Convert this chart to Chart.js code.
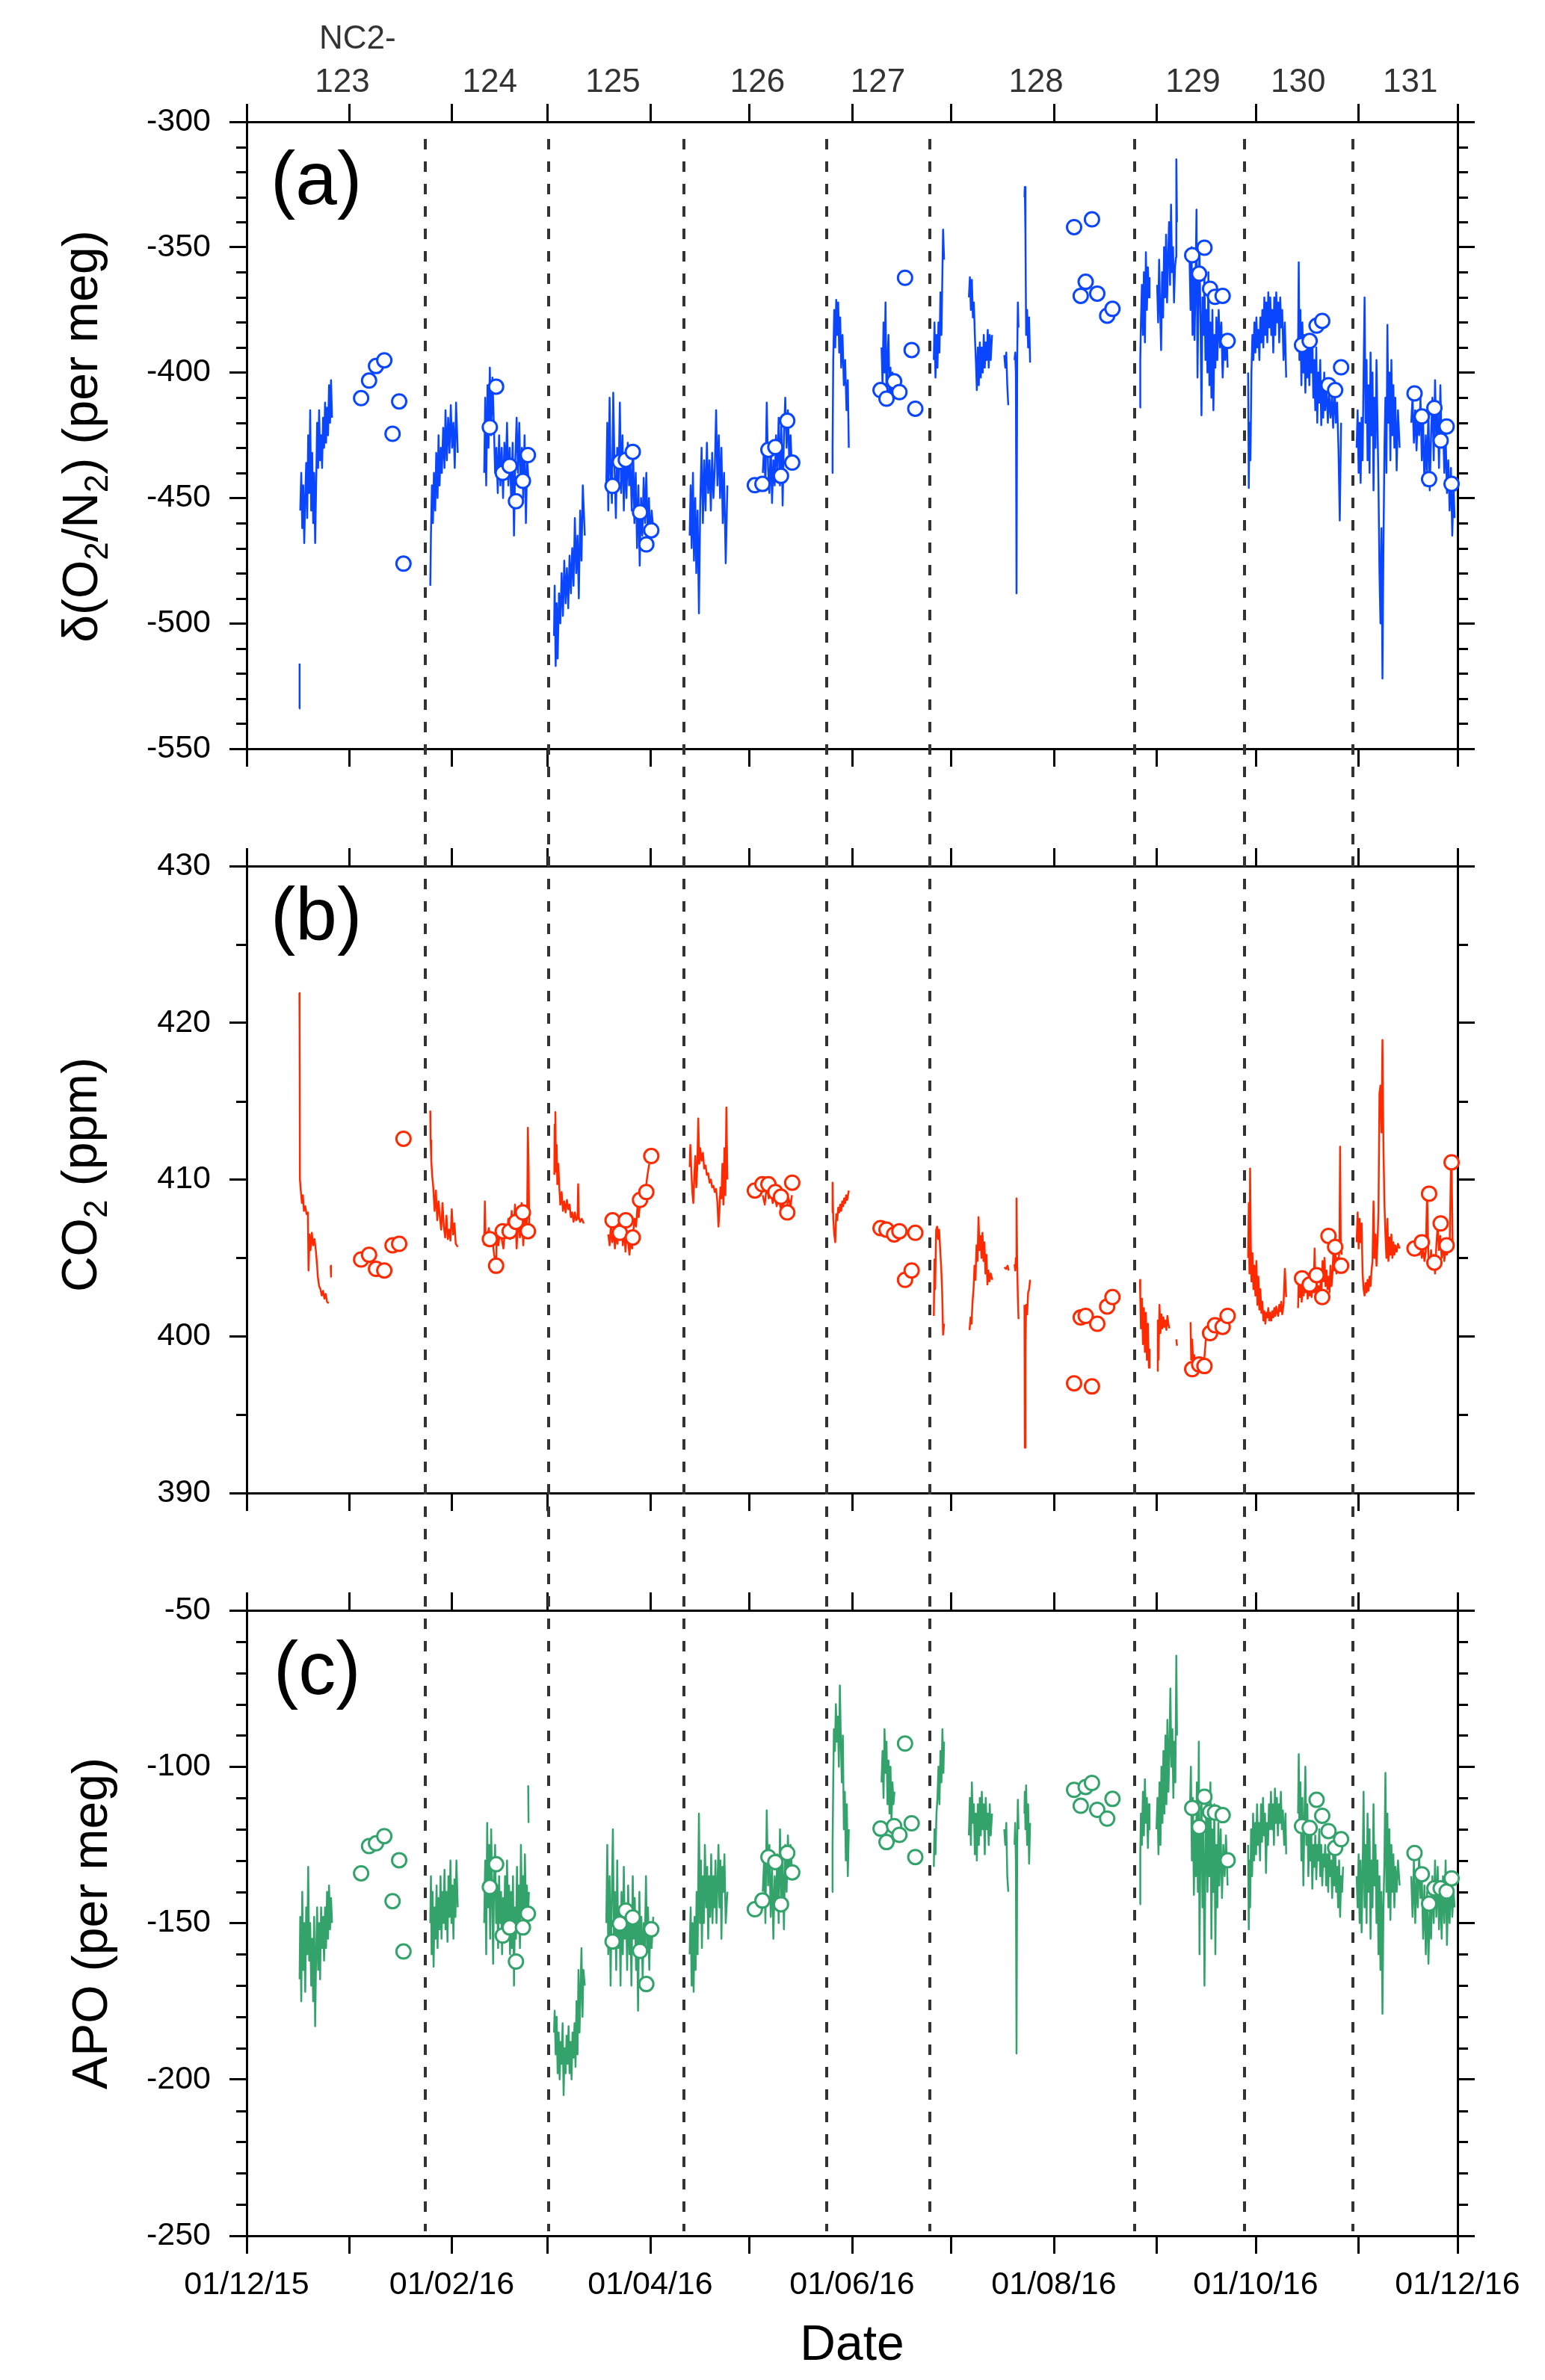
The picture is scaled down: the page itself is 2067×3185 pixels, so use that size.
<!DOCTYPE html>
<html><head><meta charset="utf-8">
<script src="https://cdn.jsdelivr.net/npm/chart.js@4.4.1/dist/chart.umd.min.js"></script>
<style>
html,body{margin:0;padding:0;background:#fff;}
#wrap{position:relative;width:2067px;height:3185px;background:#fff;overflow:hidden;}
canvas{position:absolute;left:0;}
</style></head><body>
<div id="wrap">
<canvas id="ca" width="2067" height="1080" style="top:0px;width:2067px;height:1080px"></canvas>
<canvas id="cb" width="2067" height="996" style="top:1080px;width:2067px;height:996px"></canvas>
<canvas id="cc" width="2067" height="1109" style="top:2076px;width:2067px;height:1109px"></canvas>
</div>
<script>
// ---------- DATA (x = days since 01/12/2015) ----------
const monthTicks = [0,31,62,91,122,152,183,213,244,275,305,336,366];
const labelDays  = [0,62,122,183,244,305,366];
const labelTexts = ['01/12/15','01/02/16','01/04/16','01/06/16','01/08/16','01/10/16','01/12/16'];
const tankDays   = [28.9,73.5,110.7,154.4,190.8,238.6,286.0,317.8,351.7];
const tankLabels = ['123','124','125','126','127','128','129','130','131'];
const tankPrefix = 'NC2-';
const changeDays = [54.0,91.2,132.1,175.3,206.4,268.5,301.5,334.4];

const flaskDays = [34.6,37.0,39.1,41.6,44.1,46.1,47.4, 73.5,75.4,77.4,79.5,81.4,83.5,85.0,
  110.6,112.8,114.6,116.7,118.9,120.8,122.3, 153.6,155.9,157.7,159.8,161.5,163.4,164.9,
  191.6,193.4,195.7,197.3,199.0,201.0,202.1, 250.1,252.1,253.6,255.5,257.1,260.1,261.7,
  285.8,287.9,289.5,291.2,292.7,295.0,296.5, 319.0,321.3,323.4,325.1,327.0,329.0,330.8,
  353.0,355.2,357.4,359.0,360.9,362.7,364.2];
const o2Flask = [-410.2,-403.2,-397.4,-395.1,-424.4,-411.5,-476.2, -421.8,-405.6,-440.0,-437.2,-451.3,-443.2,-432.9,
  -445.2,-435.6,-434.8,-431.6,-455.7,-468.5,-462.9, -444.9,-444.4,-430.8,-429.7,-441.2,-419.2,-435.9,
  -407.0,-410.4,-403.5,-407.8,-362.2,-391.0,-414.4, -342.0,-369.4,-363.8,-338.9,-368.5,-377.3,-374.6,
  -353.2,-360.6,-350.2,-366.6,-369.8,-369.4,-387.4, -389.0,-387.4,-381.3,-379.4,-405.0,-407.0,-397.9,
  -408.3,-417.5,-442.5,-414.1,-427.1,-421.5,-444.4];
const co2Flask = [404.9,405.2,404.3,404.2,405.8,405.9,412.6, 406.2,404.5,406.7,406.7,407.3,407.9,406.7,
  407.4,406.6,407.4,406.3,408.7,409.2,411.5, 409.3,409.7,409.7,409.2,408.9,407.9,409.8,
  406.9,406.8,406.5,406.7,403.6,404.2,406.6, 397.0,401.2,401.3,396.8,400.8,401.9,402.5,
  397.9,398.2,398.1,400.2,400.7,400.6,401.3, 403.7,403.3,403.9,402.5,406.4,405.7,404.5,
  405.6,406.0,409.1,404.7,407.2,405.8,411.1];
const apoFlask = [-134.1,-125.4,-124.5,-122.2,-143.0,-129.9,-159.1, -138.5,-131.2,-154.0,-151.4,-162.3,-151.4,-147.0,
  -155.9,-150.2,-146.0,-148.2,-158.9,-169.5,-152.0, -145.6,-142.8,-128.9,-130.5,-144.0,-127.6,-133.8,
  -119.8,-124.1,-119.0,-121.8,-92.6,-118.1,-128.9, -107.4,-112.5,-106.5,-105.2,-113.8,-116.6,-110.3,
  -113.2,-119.3,-109.6,-114.5,-114.7,-115.5,-129.9, -119.0,-119.6,-110.6,-115.7,-120.6,-126.0,-123.2,
  -127.6,-134.4,-143.8,-138.9,-138.9,-139.9,-135.7];

// continuous records: [day, value], null = data gap
const o2Line = [
[15.9,-534],[16.0,-516],null,
[16.2,-455],[16.5,-440],[16.8,-462],[17.1,-445],[17.4,-468],[17.7,-450],[18.0,-436],[18.3,-458],[18.6,-425],[18.9,-448],[19.2,-415],[19.5,-455],[19.8,-432],[20.1,-460],[20.4,-440],[20.7,-468],[21.0,-445],[21.3,-420],[21.6,-438],[21.9,-415],[22.2,-435],[22.5,-425],[22.8,-438],[23.1,-418],[23.4,-430],[23.7,-412],[24.0,-428],[24.3,-414],[24.6,-425],[24.9,-405],[25.2,-420],[25.5,-403],[25.8,-418],null,
[55.5,-485],[55.7,-465],[56.0,-445],[56.3,-460],[56.6,-440],[57.0,-455],[57.3,-432],[57.7,-450],[58.0,-425],[58.3,-445],[58.7,-430],[59.0,-440],[59.4,-422],[59.8,-438],[60.1,-415],[60.5,-435],[60.9,-418],[61.3,-432],[61.7,-413],[62.1,-430],[62.5,-420],[62.9,-438],[63.3,-412],[63.8,-432],null,
[71.8,-440],[72.1,-410],[72.4,-445],[72.8,-405],[73.1,-430],[73.5,-398],[73.9,-425],[74.3,-402],[74.7,-420],[75.1,-440],[75.5,-430],[75.9,-448],[76.3,-425],[76.7,-445],[77.1,-430],[77.5,-450],[77.9,-428],[78.3,-440],[78.7,-420],[79.1,-445],[79.5,-430],[80.0,-452],[80.4,-428],[80.8,-465],[81.2,-435],[81.6,-418],[82.0,-440],[82.4,-420],[82.8,-445],[83.2,-430],[83.6,-450],[84.0,-425],[84.4,-460],[84.8,-435],[85.3,-445],null,
[92.9,-505],[93.1,-485],[93.4,-517],[93.7,-492],[94.0,-514],[94.4,-488],[94.8,-500],[95.2,-480],[95.6,-497],[96.0,-475],[96.4,-492],[96.8,-478],[97.2,-494],[97.6,-473],[98.0,-488],[98.4,-470],[98.8,-485],[99.2,-458],[99.6,-480],[100.0,-465],[100.4,-490],[100.8,-455],[101.2,-475],[101.6,-445],[102.2,-465],null,
[108.7,-445],[109.0,-420],[109.3,-455],[109.7,-410],[110.0,-440],[110.4,-452],[110.8,-408],[111.2,-438],[111.6,-458],[112.0,-430],[112.4,-445],[112.8,-412],[113.2,-448],[113.6,-425],[114.0,-455],[114.4,-432],[114.8,-450],[115.2,-428],[115.6,-445],[116.0,-436],[116.4,-455],[116.8,-430],[117.2,-460],[117.6,-440],[118.0,-470],[118.4,-445],[118.8,-477],[119.2,-450],[119.6,-465],[120.0,-442],[120.4,-460],[120.8,-440],[121.2,-465],[121.6,-450],[122.0,-468],[122.4,-455],[122.9,-462],null,
[133.9,-465],[134.2,-445],[134.5,-470],[134.9,-440],[135.2,-475],[135.6,-450],[135.9,-480],[136.3,-455],[136.7,-496],[137.1,-452],[137.5,-430],[137.9,-460],[138.3,-435],[138.7,-455],[139.1,-428],[139.5,-448],[139.9,-435],[140.3,-455],[140.7,-432],[141.1,-450],[141.5,-438],[141.9,-415],[142.3,-445],[142.7,-425],[143.1,-450],[143.5,-430],[143.9,-460],[144.3,-440],[144.8,-476],[145.3,-445],null,
[156.0,-440],[156.4,-430],[156.8,-445],[157.2,-412],[157.6,-438],[158.0,-448],[158.4,-428],[158.8,-452],[159.2,-435],[159.6,-445],[160.0,-425],[160.4,-440],[160.8,-418],[161.2,-445],[161.6,-420],[162.0,-453],[162.4,-425],[162.8,-410],[163.2,-430],[163.6,-415],[164.0,-435],[164.4,-425],[164.8,-438],null,
[176.9,-440],[177.1,-430],[177.3,-395],[177.6,-375],[177.9,-390],[178.2,-371],[178.5,-385],[178.8,-372],[179.1,-392],[179.4,-378],[179.7,-398],[180.1,-385],[180.5,-405],[180.9,-395],[181.3,-415],[181.7,-403],[182.0,-430],null,
[191.9,-390],[192.2,-405],[192.5,-380],[192.8,-400],[193.1,-372],[193.4,-410],[193.7,-395],[194.0,-385],[194.3,-408],[194.6,-398],[194.9,-412],[195.2,-400],[195.5,-405],[195.8,-410],null,
[207.7,-395],[207.9,-380],[208.2,-402],[208.5,-385],[208.8,-398],[209.1,-380],[209.4,-392],[209.7,-368],[210.0,-385],[210.3,-360],[210.5,-343],[210.8,-355],null,
[218.3,-370],[218.6,-362],[218.9,-375],[219.2,-363],[219.5,-378],[219.8,-372],[220.1,-385],[220.4,-395],[220.7,-407],[221.0,-390],[221.3,-405],[221.6,-388],[221.9,-402],[222.2,-390],[222.5,-400],[222.8,-385],[223.1,-398],[223.4,-388],[223.7,-395],[224.0,-383],[224.3,-398],[224.6,-385],[224.9,-395],[225.3,-385],null,
[229.0,-393],[229.3,-398],[229.6,-392],[229.9,-405],[230.2,-413],null,
[232.1,-395],[232.3,-392],[232.5,-400],[232.7,-488],[232.9,-395],[233.1,-372],[233.3,-382],null,
[235.1,-330],[235.2,-326],[235.4,-345],[235.6,-385],[235.9,-375],[236.2,-390],[236.5,-378],[236.8,-396],null,
[270.0,-414],[270.1,-395],[270.3,-380],[270.6,-365],[270.9,-385],[271.2,-360],[271.5,-388],[271.8,-352],[272.1,-375],[272.4,-358],[272.7,-370],[272.9,-362],null,
[275.2,-365],[275.5,-380],[275.8,-355],[276.1,-375],[276.4,-391],[276.7,-360],[277.0,-378],[277.3,-350],[277.6,-370],[277.9,-345],[278.2,-372],[278.5,-355],[278.8,-340],[279.1,-365],[279.4,-333],[279.7,-360],[280.0,-350],[280.3,-372],[280.6,-358],[280.9,-354],[281.0,-315],[281.2,-340],null,
[285.0,-355],[285.3,-375],[285.6,-350],[285.9,-385],[286.2,-360],[286.5,-387],[286.8,-365],[287.1,-335],[287.4,-402],[287.7,-370],[288.0,-352],[288.3,-378],[288.6,-417],[288.9,-370],[289.2,-385],[289.5,-362],[289.8,-395],[290.1,-375],[290.4,-400],[290.7,-360],[291.0,-405],[291.3,-380],[291.6,-410],[291.9,-375],[292.2,-415],[292.5,-385],[292.8,-398],[293.1,-378],[293.4,-395],[293.8,-375],[294.2,-390],[294.6,-380],[295.0,-402],[295.4,-388],[295.8,-395],[296.2,-385],[296.5,-398],null,
[302.7,-400],[302.9,-446],[303.1,-420],[303.4,-435],[303.7,-400],[304.0,-385],[304.3,-395],[304.6,-380],[304.9,-392],[305.2,-378],[305.5,-390],[305.8,-383],[306.1,-395],[306.4,-378],[306.7,-388],[307.0,-375],[307.3,-390],[307.6,-370],[307.9,-385],[308.2,-372],[308.5,-388],[308.8,-368],[309.1,-382],[309.4,-370],[309.7,-385],[310.0,-375],[310.3,-392],[310.6,-370],[310.9,-385],[311.2,-368],[311.5,-380],[311.8,-372],[312.1,-388],[312.4,-370],[312.7,-382],[313.0,-375],[313.4,-395],[313.8,-380],[314.2,-402],null,
[317.8,-390],[318.0,-356],[318.2,-395],[318.5,-375],[318.8,-405],[319.1,-380],[319.4,-400],[319.7,-385],[320.0,-408],[320.3,-390],[320.6,-402],[320.9,-388],[321.2,-405],[321.5,-390],[321.8,-400],[322.1,-385],[322.4,-410],[322.7,-395],[323.0,-415],[323.3,-390],[323.6,-420],[323.9,-400],[324.2,-412],[324.5,-395],[324.8,-421],[325.1,-405],[325.4,-418],[325.7,-400],[326.0,-415],[326.4,-405],[326.8,-420],[327.2,-408],[327.6,-418],[328.0,-410],[328.4,-422],[328.8,-405],[329.2,-420],[329.6,-412],[330.0,-430],[330.4,-459],[330.8,-420],null,
[335.5,-430],[335.8,-415],[336.1,-440],[336.4,-420],[336.7,-444],[337.0,-418],[337.3,-435],[337.6,-400],[337.9,-370],[338.2,-420],[338.5,-395],[338.8,-435],[339.1,-405],[339.4,-440],[339.7,-392],[340.0,-425],[340.3,-400],[340.6,-447],[340.9,-410],[341.2,-430],[341.5,-395],[341.8,-420],[342.1,-445],[342.4,-480],[342.7,-500],[343.0,-462],[343.3,-522],[343.6,-470],[343.9,-430],[344.2,-410],[344.5,-440],[344.8,-381],[345.1,-420],[345.4,-400],[345.7,-435],[346.0,-395],[346.3,-425],[346.6,-405],[346.9,-430],[347.2,-410],[347.6,-439],[348.0,-415],[348.5,-430],null,
[352.0,-420],[352.4,-410],[352.8,-428],[353.2,-415],[353.6,-431],[354.0,-418],[354.4,-425],[354.8,-410],[355.2,-435],[355.6,-420],[356.0,-445],[356.4,-425],[356.8,-440],[357.2,-415],[357.6,-447],[358.0,-425],[358.4,-410],[358.8,-435],[359.2,-403],[359.6,-428],[360.0,-415],[360.4,-438],[360.8,-405],[361.2,-430],[361.6,-420],[362.0,-440],[362.4,-425],[362.8,-448],[363.2,-435],[363.6,-455],[364.0,-438],[364.4,-465],[364.8,-445],[365.1,-458]
];

const co2Line = [
[15.95,421.9],[16.0,419.5],[16.1,410.0],[16.4,409.2],[16.7,408.5],[17.0,409.0],[17.3,408.0],[17.7,408.3],[18.1,407.8],[18.5,407.9],[18.7,404.2],[19.0,406.5],[19.3,405.5],[19.7,406.6],[20.1,405.8],[20.5,406.2],[20.9,405.5],[21.3,404.5],[21.5,403.8],[21.9,403.2],[22.3,403.0],[22.7,402.6],[23.1,402.9],[23.5,402.4],[23.9,402.7],[24.3,402.2],[24.8,402.1],null,
[25.4,404.5],[25.5,403.8],null,
[55.5,414.4],[55.6,412.5],[55.8,411.2],[56.1,410.2],[56.4,409.5],[56.8,408.0],[57.2,409.3],[57.6,407.4],[58.0,408.6],[58.4,407.6],[58.8,406.8],[59.2,408.5],[59.6,407.0],[60.0,406.3],[60.4,407.7],[60.8,406.2],[61.2,406.8],[61.6,406.1],[62.0,408.1],[62.4,406.5],[62.8,407.2],[63.2,405.9],[63.8,405.7],null,
[71.8,405.8],[72.0,408.6],[72.2,406.5],[72.7,406.2],[73.2,406.9],[73.7,405.9],[74.2,406.3],[74.8,405.2],[75.4,404.5],[75.6,406.4],[76.1,405.8],[76.6,406.8],[77.1,406.2],[77.6,405.6],[78.1,406.8],[78.6,406.3],[79.1,407.5],[79.6,406.2],[80.1,408.0],[80.6,406.5],[81.1,408.4],[81.6,405.6],[82.1,407.5],[82.6,406.3],[83.1,408.5],[83.6,405.8],[84.1,407.6],[84.6,406.5],[84.8,408.2],[85.0,413.3],[85.2,411.0],[85.4,407.2],[85.7,406.5],null,
[93.0,410.3],[93.1,413.5],[93.3,414.3],[93.5,410.5],[93.7,412.2],[93.9,409.7],[94.2,411.0],[94.5,409.5],[94.8,408.4],[95.2,409.2],[95.6,408.0],[96.0,408.6],[96.4,407.9],[96.8,408.7],[97.2,408.1],[97.6,408.4],[98.0,407.6],[98.4,407.9],[98.8,407.3],[99.2,407.9],[99.6,407.4],[100.0,407.5],[100.2,409.7],[100.4,407.6],[100.8,407.3],[101.3,407.5],[101.9,407.2],null,
[109.3,406.5],[109.7,405.8],[110.1,407.1],[110.5,406.0],[110.9,406.8],[111.3,405.6],[111.7,406.5],[112.1,405.9],[112.5,407.0],[112.9,406.2],[113.3,407.4],[113.7,405.8],[114.1,406.8],[114.5,405.4],[114.9,406.6],[115.3,406.0],[115.7,405.2],[116.1,406.2],[116.5,405.6],[116.9,406.8],[117.3,407.5],[117.7,407.0],[118.1,408.2],[118.5,407.6],[118.9,408.5],[119.3,408.9],[119.7,408.4],[120.1,409.4],[120.5,409.0],[120.9,409.9],[121.3,410.5],[121.7,411.0],null,
[133.9,410.8],[134.1,412.2],[134.4,410.6],[134.7,409.2],[135.0,408.5],[135.3,410.2],[135.6,411.5],[135.9,409.5],[136.2,410.8],[136.5,413.9],[136.8,411.0],[137.1,412.0],[137.5,411.2],[137.9,411.7],[138.3,410.7],[138.7,410.9],[139.1,410.3],[139.5,410.4],[139.9,409.8],[140.3,410.0],[140.7,409.5],[141.1,409.6],[141.5,409.2],[141.9,409.4],[142.3,408.5],[142.6,407.0],[142.9,408.0],[143.2,409.5],[143.5,408.8],[143.8,411.0],[144.1,408.4],[144.4,412.0],[144.7,409.0],[145.0,414.6],[145.3,410.0],null,
[156.0,409.0],[156.6,408.4],[157.2,409.6],[157.8,408.8],[158.4,409.3],[159.0,408.5],[159.6,409.0],[160.2,408.3],[160.8,408.9],[161.4,408.2],[162.0,408.6],[162.6,407.6],[163.2,408.2],[163.8,408.8],[164.4,408.3],[164.8,409.0],null,
[176.9,407.9],[177.1,409.8],[177.3,407.5],[177.6,406.5],[177.9,406.0],[178.2,407.8],[178.5,407.4],[178.8,408.2],[179.1,407.9],[179.4,408.4],[179.7,408.0],[180.0,408.6],[180.3,408.3],[180.6,408.8],[180.9,408.5],[181.2,409.0],[181.5,408.7],[182.0,409.3],null,
[191.9,407.0],[192.4,406.5],[192.9,407.2],[193.4,406.6],[193.9,407.0],[194.4,406.4],[194.9,406.8],[195.4,406.2],[195.8,406.6],null,
[207.7,401.3],[207.9,404.9],[208.1,403.0],[208.4,406.8],[208.7,407.0],[209.0,406.2],[209.3,406.8],[209.6,405.6],[209.9,404.5],[210.2,403.0],[210.5,400.1],[210.8,400.8],null,
[218.5,400.4],[218.8,401.2],[219.1,400.8],[219.4,402.2],[219.7,403.0],[220.0,404.5],[220.3,403.6],[220.6,405.8],[220.9,404.8],[221.2,407.6],[221.5,405.5],[221.8,406.4],[222.1,405.0],[222.4,406.6],[222.7,404.8],[223.0,406.0],[223.3,404.0],[223.6,405.2],[223.9,403.3],[224.2,404.2],[224.5,403.5],[224.9,404.0],[225.4,403.6],null,
[229.0,404.4],[229.5,404.3],[230.0,404.5],[230.3,404.2],null,
[232.1,404.6],[232.3,404.2],[232.5,405.0],[232.7,408.8],[232.9,404.5],[233.1,402.5],[233.3,401.1],null,
[235.1,402.0],[235.2,392.9],[235.4,399.0],[235.6,402.0],[235.9,401.4],[236.2,402.8],[236.5,403.0],[236.8,403.6],null,
[270.0,403.6],[270.1,402.6],[270.3,400.5],[270.6,402.4],[270.9,399.5],[271.2,401.8],[271.5,399.0],[271.8,401.5],[272.1,398.5],[272.4,400.8],[272.7,398.0],[272.9,399.2],null,
[275.2,397.8],[275.4,401.0],[275.6,398.5],[275.9,402.0],[276.2,400.2],[276.5,401.4],[276.8,400.5],[277.1,401.2],[277.4,400.6],[277.7,401.0],[278.0,400.4],[278.3,401.3],[278.6,400.8],[278.9,400.5],null,
[281.0,399.8],[281.2,399.4],null,
[285.3,400.9],[285.5,398.5],[285.8,399.8],[286.1,398.2],[286.4,398.8],[286.7,397.9],[287.0,398.3],[287.4,398.0],[287.8,398.4],[288.2,398.0],[288.6,398.5],[289.0,398.1],[289.4,398.4],[289.8,399.5],[290.1,400.3],[290.4,399.8],[290.8,400.2],[291.2,400.5],[291.6,400.1],[292.0,400.6],[292.4,400.2],[292.8,400.8],[293.2,400.5],[293.6,401.0],[294.0,400.6],[294.4,401.2],[294.8,400.8],[295.2,401.3],[295.6,401.0],[296.0,401.5],[296.5,401.2],null,
[302.7,405.0],[302.9,408.5],[303.1,404.0],[303.3,410.7],[303.5,406.0],[303.7,403.5],[304.0,405.3],[304.3,403.0],[304.6,404.5],[304.9,402.6],[305.2,404.8],[305.5,402.0],[305.8,403.8],[306.1,401.7],[306.4,403.0],[306.7,401.5],[307.0,402.2],[307.3,401.0],[307.6,401.6],[307.9,400.8],[308.2,401.5],[308.5,401.2],[308.8,401.8],[309.1,401.0],[309.4,401.5],[309.7,401.0],[310.0,401.6],[310.3,401.2],[310.6,401.8],[310.9,401.3],[311.2,401.9],[311.5,401.5],[311.8,401.3],[312.1,402.0],[312.4,401.6],[312.7,402.2],[313.0,401.4],[313.4,402.0],[313.8,404.3],[314.2,402.5],null,
[317.8,401.8],[318.0,404.0],[318.3,402.5],[318.6,403.5],[318.9,402.2],[319.2,403.8],[319.5,402.6],[319.8,403.3],[320.1,402.8],[320.4,403.6],[320.7,402.4],[321.0,403.0],[321.3,402.6],[321.6,403.4],[321.9,402.5],[322.2,403.5],[322.5,402.8],[322.8,405.6],[323.1,402.6],[323.4,403.6],[323.7,402.4],[324.0,403.2],[324.3,402.2],[324.6,403.4],[324.9,403.0],[325.2,404.8],[325.5,403.5],[325.8,405.0],[326.1,403.2],[326.4,404.2],[326.7,403.0],[327.0,403.8],[327.3,402.8],[327.6,404.5],[327.9,403.2],[328.2,404.0],[328.5,405.5],[328.8,404.2],[329.1,405.2],[329.4,404.0],[329.7,405.0],[330.0,404.3],[330.3,405.8],[330.5,412.1],[330.7,406.0],[331.0,405.2],null,
[335.5,406.0],[335.8,407.9],[336.1,405.6],[336.4,407.5],[336.7,406.0],[337.0,407.2],[337.3,404.0],[337.6,403.0],[337.9,402.6],[338.2,403.4],[338.5,402.8],[338.8,403.6],[339.1,402.9],[339.4,403.8],[339.7,403.2],[340.0,404.2],[340.3,404.8],[340.6,408.6],[340.9,405.0],[341.2,406.5],[341.5,404.5],[341.8,406.0],[342.1,408.0],[342.4,415.5],[342.7,416.0],[343.0,413.0],[343.3,418.9],[343.6,412.0],[343.9,408.5],[344.2,406.5],[344.5,405.0],[344.8,407.5],[345.1,404.8],[345.4,406.3],[345.7,405.2],[346.0,406.5],[346.3,405.0],[346.6,406.0],[346.9,405.2],[347.2,405.8],[347.6,405.4],[348.0,405.9],[348.5,405.6],null,
[352.0,405.6],[352.4,405.9],[352.8,405.4],[353.2,406.1],[353.6,405.5],[354.0,406.0],[354.4,405.2],[354.8,405.8],[355.2,405.0],[355.6,405.6],[356.0,404.8],[356.4,405.4],[356.8,409.2],[357.2,405.0],[357.6,404.5],[358.0,405.5],[358.4,404.4],[358.8,405.2],[359.2,404.0],[359.6,405.8],[360.0,407.1],[360.4,405.5],[360.8,406.4],[361.2,405.0],[361.6,405.8],[362.0,404.8],[362.4,405.6],[362.8,405.2],[363.2,406.0],[363.6,405.5],[364.0,410.8],[364.2,411.1],[364.5,406.0]
];

const apoLine = [
[16.0,-168],[16.2,-148],[16.5,-175],[16.8,-140],[17.1,-165],[17.4,-150],[17.7,-172],[18.0,-145],[18.3,-160],[18.6,-132],[18.9,-162],[19.2,-150],[19.5,-170],[19.8,-155],[20.1,-175],[20.4,-148],[20.7,-183],[21.0,-160],[21.3,-145],[21.6,-165],[21.9,-150],[22.2,-168],[22.5,-145],[22.8,-158],[23.1,-148],[23.4,-162],[23.7,-145],[24.0,-158],[24.3,-140],[24.6,-155],[24.9,-138],[25.2,-152],[25.5,-142],[25.8,-150],null,
[55.5,-150],[55.7,-135],[55.9,-160],[56.2,-140],[56.5,-164],[56.8,-145],[57.1,-155],[57.4,-138],[57.7,-158],[58.0,-142],[58.3,-152],[58.6,-135],[58.9,-155],[59.2,-140],[59.5,-150],[59.8,-133],[60.1,-152],[60.4,-140],[60.7,-156],[61.0,-135],[61.3,-148],[61.6,-130],[61.9,-150],[62.2,-138],[62.5,-155],[62.8,-136],[63.1,-148],[63.4,-130],[63.8,-145],null,
[71.8,-150],[72.1,-130],[72.4,-160],[72.7,-118],[73.0,-145],[73.3,-125],[73.6,-155],[73.9,-120],[74.2,-140],[74.5,-163],[74.8,-135],[75.1,-125],[75.4,-150],[75.7,-138],[76.0,-158],[76.3,-135],[76.6,-150],[76.9,-140],[77.2,-160],[77.5,-142],[77.8,-152],[78.1,-135],[78.4,-155],[78.7,-130],[79.0,-150],[79.3,-138],[79.6,-160],[79.9,-140],[80.2,-158],[80.5,-135],[80.8,-170],[81.1,-145],[81.4,-155],[81.7,-132],[82.0,-150],[82.3,-138],[82.6,-158],[82.9,-125],[83.2,-148],[83.5,-135],[83.8,-152],[84.1,-128],[84.4,-145],[84.7,-138],[85.0,-150],[85.3,-140],null,
[85.1,-106],[85.2,-118],null,
[92.9,-185],[93.1,-178],[93.4,-192],[93.7,-180],[94.0,-198],[94.3,-185],[94.6,-200],[94.9,-188],[95.2,-195],[95.5,-182],[95.8,-205],[96.1,-190],[96.4,-198],[96.7,-186],[97.0,-195],[97.3,-183],[97.6,-198],[97.9,-188],[98.2,-200],[98.5,-185],[98.8,-193],[99.1,-182],[99.4,-196],[99.7,-175],[100.0,-192],[100.3,-165],[100.6,-185],[100.9,-172],[101.2,-158],[101.5,-180],[101.8,-165],[102.2,-170],null,
[108.7,-150],[109.0,-125],[109.3,-160],[109.7,-135],[110.0,-170],[110.3,-145],[110.7,-120],[111.0,-155],[111.3,-140],[111.7,-165],[112.0,-130],[112.3,-158],[112.7,-145],[113.0,-170],[113.3,-140],[113.7,-160],[114.0,-132],[114.3,-155],[114.7,-145],[115.0,-165],[115.3,-138],[115.7,-160],[116.0,-148],[116.3,-170],[116.7,-135],[117.0,-155],[117.3,-142],[117.7,-165],[118.0,-150],[118.3,-178],[118.7,-140],[119.0,-160],[119.3,-148],[119.7,-168],[120.0,-150],[120.3,-160],[120.7,-135],[121.0,-158],[121.3,-145],[121.7,-165],[122.0,-150],[122.4,-158],[122.9,-148],null,
[133.9,-160],[134.2,-145],[134.5,-170],[134.8,-150],[135.1,-172],[135.4,-148],[135.7,-165],[136.0,-140],[136.3,-160],[136.7,-115],[137.0,-150],[137.3,-130],[137.6,-158],[137.9,-135],[138.2,-150],[138.5,-125],[138.9,-145],[139.2,-132],[139.5,-155],[139.8,-135],[140.1,-148],[140.4,-128],[140.8,-150],[141.1,-135],[141.4,-145],[141.7,-130],[142.0,-150],[142.3,-138],[142.6,-125],[142.9,-145],[143.2,-130],[143.5,-155],[143.8,-132],[144.1,-140],[144.4,-128],[144.8,-150],[145.3,-140],null,
[156.0,-140],[156.4,-130],[156.8,-150],[157.2,-114],[157.6,-138],[158.0,-125],[158.4,-148],[158.8,-132],[159.2,-155],[159.6,-135],[160.0,-145],[160.4,-128],[160.8,-150],[161.2,-120],[161.6,-142],[162.0,-130],[162.4,-152],[162.8,-125],[163.2,-140],[163.6,-122],[164.0,-135],[164.4,-125],[164.8,-133],null,
[176.9,-140],[177.1,-125],[177.3,-105],[177.5,-88],[177.8,-95],[178.1,-80],[178.4,-92],[178.7,-84],[179.0,-100],[179.3,-74],[179.6,-92],[179.9,-105],[180.2,-90],[180.5,-120],[180.8,-108],[181.1,-130],[181.4,-112],[181.7,-135],[182.0,-120],null,
[191.9,-105],[192.2,-95],[192.5,-110],[192.8,-88],[193.1,-102],[193.4,-92],[193.7,-112],[194.0,-98],[194.3,-115],[194.6,-100],[194.9,-118],[195.2,-105],[195.5,-112],[195.8,-108],null,
[207.7,-132],[207.9,-120],[208.2,-128],[208.5,-115],[208.8,-110],[209.1,-100],[209.4,-112],[209.7,-95],[210.0,-105],[210.3,-88],[210.6,-102],[210.8,-92],null,
[218.3,-122],[218.6,-110],[218.9,-125],[219.2,-105],[219.5,-118],[219.8,-112],[220.1,-128],[220.4,-115],[220.7,-130],[221.0,-112],[221.3,-125],[221.6,-110],[221.9,-122],[222.2,-108],[222.5,-120],[222.8,-112],[223.1,-128],[223.4,-110],[223.7,-120],[224.0,-115],[224.3,-125],[224.6,-112],[224.9,-122],[225.3,-115],null,
[229.0,-120],[229.3,-125],[229.6,-118],[229.9,-135],[230.2,-140],null,
[232.1,-125],[232.3,-118],[232.5,-130],[232.7,-191.7],[232.9,-125],[233.1,-110.6],[233.3,-120],null,
[235.1,-115],[235.2,-108],[235.4,-120],[235.6,-106],[235.9,-125],[236.2,-112],[236.5,-131],[236.8,-118],null,
[270.0,-144],[270.1,-128],[270.3,-115],[270.6,-125],[270.9,-108],[271.2,-122],[271.5,-104],[271.8,-118],[272.1,-110],[272.4,-126],[272.7,-112],[272.9,-120],null,
[275.0,-120],[275.3,-110],[275.6,-128],[275.9,-105],[276.2,-125],[276.5,-100],[276.8,-118],[277.1,-95],[277.4,-115],[277.7,-90],[278.0,-112],[278.3,-85],[278.6,-108],[278.9,-95],[279.2,-75],[279.5,-100],[279.8,-88],[280.1,-110],[280.4,-92],[280.7,-105],[281.0,-64.5],[281.2,-90],null,
[285.1,-115],[285.4,-100],[285.7,-130],[286.0,-110],[286.3,-141],[286.6,-120],[286.9,-135],[287.2,-105],[287.5,-140],[287.8,-92],[288.0,-160],[288.3,-125],[288.6,-110],[288.9,-145],[289.2,-118],[289.5,-170],[289.8,-130],[290.1,-110],[290.4,-140],[290.7,-115],[291.0,-135],[291.3,-105],[291.6,-155],[291.9,-120],[292.2,-140],[292.5,-112],[292.8,-160],[293.1,-125],[293.4,-145],[293.7,-118],[294.0,-138],[294.4,-120],[294.8,-142],[295.2,-125],[295.6,-135],[296.0,-122],[296.5,-138],null,
[302.7,-125],[302.9,-152],[303.1,-130],[303.3,-145],[303.6,-120],[303.9,-135],[304.2,-115],[304.5,-130],[304.8,-118],[305.1,-128],[305.4,-112],[305.7,-125],[306.0,-118],[306.3,-130],[306.6,-112],[306.9,-124],[307.2,-110],[307.5,-122],[307.8,-115],[308.1,-134],[308.4,-118],[308.7,-125],[309.0,-112],[309.3,-120],[309.6,-108],[309.9,-120],[310.2,-112],[310.5,-125],[310.8,-107],[311.1,-118],[311.4,-110],[311.7,-122],[312.0,-112],[312.3,-118],[312.6,-108],[312.9,-120],[313.2,-114],[313.6,-125],[314.0,-115],[314.2,-128],null,
[317.8,-115],[318.0,-96],[318.2,-120],[318.5,-105],[318.8,-130],[319.1,-110],[319.4,-138],[319.7,-118],[320.0,-100],[320.3,-125],[320.6,-112],[320.9,-135],[321.2,-120],[321.5,-130],[321.8,-122],[322.1,-139],[322.4,-125],[322.7,-132],[323.0,-122],[323.3,-136],[323.6,-125],[323.9,-130],[324.2,-120],[324.5,-135],[324.8,-125],[325.1,-138],[325.4,-128],[325.7,-132],[326.0,-125],[326.3,-138],[326.6,-128],[326.9,-140],[327.2,-125],[327.5,-135],[327.8,-130],[328.1,-142],[328.4,-128],[328.7,-138],[329.0,-125],[329.3,-140],[329.6,-132],[329.9,-145],[330.2,-130],[330.5,-148],[330.8,-135],[331.1,-140],[331.4,-132],null,
[335.5,-135],[335.8,-145],[336.1,-128],[336.4,-150],[336.7,-130],[337.0,-153],[337.3,-135],[337.6,-108],[337.9,-145],[338.2,-125],[338.5,-150],[338.8,-115],[339.1,-140],[339.4,-120],[339.7,-155],[340.0,-130],[340.3,-145],[340.6,-112],[340.9,-138],[341.2,-125],[341.5,-150],[341.8,-130],[342.1,-160],[342.4,-135],[342.7,-165],[343.0,-140],[343.3,-179],[343.6,-145],[343.9,-130],[344.2,-102],[344.5,-140],[344.8,-115],[345.1,-145],[345.4,-120],[345.7,-149],[346.0,-125],[346.3,-140],[346.6,-128],[346.9,-145],[347.2,-132],[347.6,-140],[348.0,-130],[348.5,-138],null,
[352.0,-135],[352.4,-148],[352.8,-130],[353.2,-150],[353.6,-135],[354.0,-145],[354.4,-128],[354.8,-142],[355.2,-135],[355.6,-155],[356.0,-138],[356.4,-160],[356.8,-140],[357.2,-163],[357.6,-145],[358.0,-155],[358.4,-135],[358.8,-150],[359.2,-130],[359.6,-148],[360.0,-132],[360.4,-152],[360.8,-138],[361.2,-155],[361.6,-135],[362.0,-150],[362.4,-130],[362.8,-157],[363.2,-138],[363.6,-150],[364.0,-135],[364.4,-148],[364.8,-140],[365.1,-145]
];

// ---------- RENDERING ----------
const FONT = "'Liberation Sans', Arial, Helvetica, sans-serif";
const W = 2067;
const DASH_TOP = 186, DASH_BOTTOM = 2986;

function toXY(arr){
  const out = [];
  arr.forEach((p,i)=>{ if(p) out.push({x:p[0],y:p[1]}); else out.push({x:arr[i-1][0]+0.05,y:null}); });
  return out;
}
function flaskXY(vals){ return flaskDays.map((d,i)=>({x:d,y:vals[i]})); }

const panels = [
  {id:'ca', top:0, h:1080, area:[163,1002], min:-550, max:-300, major:50, minor:10, color:'#0a46ff',
   line:o2Line, flask:o2Flask, label:'(a)', labelPos:[362,273],
   title:[['δ(O',0],['2',1],['/N',0],['2',1],[') (per meg)',0]], titleX:130, titleY:584, xLabels:false, tanks:true},
  {id:'cb', top:1080, h:996, area:[1159,1998], min:390, max:430, major:10, minor:5, color:'#ff2a00',
   line:co2Line, flask:co2Flask, label:'(b)', labelPos:[362,1258],
   title:[['CO',0],['2',1],[' (ppm)',0]], titleX:129, titleY:1572, xLabels:false},
  {id:'cc', top:2076, h:1109, area:[2155,2992], min:-250, max:-50, major:50, minor:10, color:'#33a36b',
   line:apoLine, flask:apoFlask, label:'(c)', labelPos:[366,2267],
   title:[['APO (per meg)',0]], titleX:143, titleY:2574, xLabels:true, dateTitle:true}
];

function makePanel(p){
  const T = p.top;
  const topH = p.area[0]-T, botH = T+p.h-p.area[1];
  const gridOpts = (len)=>({drawOnChartArea:false, drawTicks:true, tickLength:len, tickWidth:3, lineWidth:3, color:'#000', tickColor:'#000'});
  const xAxis = (pos, h, show)=>({
    type:'linear', position:pos, min:0, max:366,
    grid:gridOpts(24), border:{display:true,width:3,color:'#000'},
    ticks:{autoSkip:false, maxRotation:0, minRotation:0, padding:16, color:'#000', font:{family:FONT,size:43},
      callback:(v)=>{ if(!show) return ''; const i=labelDays.indexOf(v); return i>=0?labelTexts[i]:''; }},
    afterBuildTicks:(s)=>{ s.ticks = monthTicks.map(v=>({value:v})); },
    afterFit:(s)=>{ s.height = h; }
  });
  const yAxis = (pos, w, show)=>({
    type:'linear', position:pos, min:p.min, max:p.max,
    grid:gridOpts(23), border:{display:true,width:3,color:'#000'},
    ticks:{stepSize:p.major, padding:25, color:'#000', font:{family:FONT,size:43},
      callback:(v)=> show ? String(v) : ''},
    afterFit:(s)=>{ s.width = w; }
  });

  const deco = {
    id:'deco',
    beforeDatasetsDraw(chart){
      const ctx = chart.ctx, xs = chart.scales.x;
      const y0 = Math.max(0, DASH_TOP - T), y1 = Math.min(p.h, DASH_BOTTOM - T);
      ctx.save();
      ctx.strokeStyle = '#333'; ctx.lineWidth = 4; ctx.setLineDash([14,16]);
      ctx.lineDashOffset = ((T + y0 - DASH_TOP) % 30);
      changeDays.forEach(d=>{
        const px = Math.round(xs.getPixelForValue(d));
        ctx.beginPath(); ctx.moveTo(px, y0); ctx.lineTo(px, y1); ctx.stroke();
      });
      ctx.restore();
    },
    afterDraw(chart){
      const ctx = chart.ctx, a = chart.chartArea, ys = chart.scales.y, xs = chart.scales.x;
      ctx.save();
      // minor y ticks (left and right)
      ctx.strokeStyle = '#000'; ctx.lineWidth = 3;
      for(let v=p.min; v<=p.max+1e-9; v+=p.minor){
        const r = v/p.major; if (Math.abs(r-Math.round(r))<1e-6) continue;
        const py = Math.round(ys.getPixelForValue(v))+0.5;
        ctx.beginPath(); ctx.moveTo(a.left-14,py); ctx.lineTo(a.left,py);
        ctx.moveTo(a.right,py); ctx.lineTo(a.right+14,py); ctx.stroke();
      }
      // panel letter
      ctx.fillStyle = '#000'; ctx.textAlign = 'left'; ctx.textBaseline = 'alphabetic';
      ctx.font = '100px ' + FONT;
      ctx.fillText(p.label, p.labelPos[0], p.labelPos[1]-T);
      // y-axis title (rotated, with subscripts)
      const fs = 66, sfs = 44;
      let total = 0;
      p.title.forEach(([t,s])=>{ ctx.font = (s?sfs:fs)+'px '+FONT; total += ctx.measureText(t).width; });
      ctx.translate(p.titleX, p.titleY - T); ctx.rotate(-Math.PI/2);
      let cx = -total/2;
      p.title.forEach(([t,s])=>{
        ctx.font = (s?sfs:fs)+'px '+FONT;
        ctx.fillText(t, cx, s ? 14 : 0);
        cx += ctx.measureText(t).width;
      });
      ctx.setTransform(1,0,0,1,0,0);
      // cylinder labels on top
      if (p.tanks){
        ctx.fillStyle = '#333'; ctx.textAlign = 'center'; ctx.font = '44px ' + FONT;
        tankDays.forEach((d,i)=>{ ctx.fillText(tankLabels[i], xs.getPixelForValue(d), 123-T); });
        ctx.textAlign = 'left';
        ctx.fillText(tankPrefix, 427, 65-T);
      }
      if (p.dateTitle){
        ctx.fillStyle = '#000'; ctx.textAlign = 'center'; ctx.font = '66px ' + FONT;
        ctx.fillText('Date', (a.left+a.right)/2, 3158-T);
      }
      ctx.restore();
    }
  };

  return new Chart(document.getElementById(p.id), {
    type:'line',
    data:{datasets:[
      {label:'flask', data:flaskXY(p.flask), showLine:false, pointRadius:9.5, pointBorderWidth:3,
       pointBackgroundColor:'#fff', pointBorderColor:p.color, order:0, clip:20},
      {label:'continuous', data:toXY(p.line), borderColor:p.color, borderWidth:2.5, pointRadius:0,
       fill:false, spanGaps:false, tension:0, borderJoinStyle:'round', order:1}
    ]},
    options:{
      responsive:false, devicePixelRatio:1, animation:false, events:[],
      layout:{padding:0},
      plugins:{legend:{display:false}, tooltip:{enabled:false}, title:{display:false}},
      scales:{
        x: xAxis('bottom', botH, p.xLabels),
        xt: xAxis('top', topH, false),
        y: yAxis('left', 330, true),
        yr: yAxis('right', W-1950, false)
      }
    },
    plugins:[deco]
  });
}
panels.forEach(makePanel);
</script>
</body></html>
